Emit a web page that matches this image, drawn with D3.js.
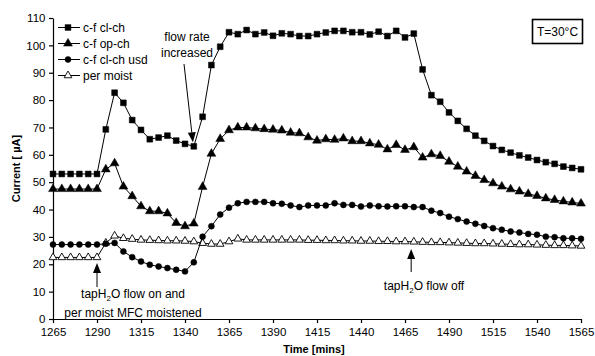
<!DOCTYPE html>
<html>
<head>
<meta charset="utf-8">
<script src="https://cdn.jsdelivr.net/npm/d3@7/dist/d3.min.js"></script>
<style>
  body { margin: 0; background: #fff; }
  svg { font-family: Arial, "Liberation Sans", sans-serif; }
</style>
</head>
<body>
<svg id="chart"></svg>
<script>
// Sampling: one reading every 5 minutes from 1265 to 1565
const startTime = 1265;
const stepTime = 5;

const xTicks = [1265, 1290, 1315, 1340, 1365, 1390, 1415, 1440, 1465, 1490, 1515, 1540, 1565];
const yTicks = [0, 10, 20, 30, 40, 50, 60, 70, 80, 90, 100, 110];

const seriesNames = ["c-f cl-ch", "c-f op-ch", "c-f cl-ch usd", "per moist"];

// c-f cl-ch (filled squares)
const cfClCh = [53, 53, 53, 53, 53, 53, 69.3, 82.7, 79.0, 72.7, 69.1, 65.7, 66.3, 67.0, 65.2, 64.0,
  63.1, 73.9, 92.8, 99.5, 104.8, 104.1, 105.6, 104.1, 104.7, 103.5, 104.4, 104.1, 103.4, 103.4,
  104.1, 104.7, 105.3, 105.3, 104.8, 104.8, 104.0, 105.0, 103.4, 105.3, 102.9, 104.3, 91.2, 81.8,
  79.4, 75.5, 72.4, 69.5, 67.0, 65.1, 63.2, 61.8, 60.8, 59.8, 59.0, 58.1, 57.3, 56.7, 55.7, 55.2, 54.7];

// c-f op-ch (filled triangles)
const cfOpCh = [47.5, 47.5, 47.5, 47.5, 47.5, 47.5, 54.7, 56.9, 48.4, 44.9, 41.2, 39.4, 39.4, 38.6,
  35.1, 33.9, 34.9, 48.3, 60.4, 65.8, 69.0, 70.0, 70.0, 69.7, 69.4, 69.2, 68.9, 68.1, 67.9, 66.4,
  65.2, 65.7, 65.5, 66.0, 65.0, 65.0, 64.2, 63.7, 62.0, 63.6, 61.8, 62.8, 59.0, 60.2, 59.6, 57.5,
  55.7, 53.9, 52.3, 50.8, 49.6, 48.4, 47.4, 46.6, 45.7, 45.0, 44.1, 43.5, 43.0, 42.6, 42.2];

// c-f cl-ch usd (filled circles)
const cfClChUsd = [27.2, 27.2, 27.2, 27.2, 27.2, 27.2, 27.5, 27.8, 24.7, 22.6, 21.0, 19.8, 19.2,
  18.6, 18.0, 17.4, 20.7, 30.1, 33.9, 38.2, 40.7, 42.3, 42.8, 42.8, 42.8, 42.3, 42.1, 41.5, 40.9,
  41.5, 41.5, 41.5, 42.3, 41.7, 41.7, 41.1, 41.5, 41.2, 41.1, 41.2, 41.2, 40.9, 40.9, 39.6, 38.7,
  37.4, 36.5, 35.6, 34.8, 34.0, 33.2, 32.6, 32.0, 31.6, 31.1, 30.8, 30.1, 29.9, 29.5, 29.5, 29.3];

// per moist (open triangles)
const perMoist = [22.5, 22.5, 22.5, 22.5, 22.5, 22.5, 27.8, 30.4, 29.5, 29.2, 28.9, 28.8, 28.7,
  28.6, 28.6, 28.5, 28.3, 27.7, 27.4, 27.4, 28.3, 29.3, 28.9, 28.9, 28.9, 28.9, 28.9, 28.9, 28.9,
  28.8, 28.8, 28.7, 28.7, 28.6, 28.6, 28.5, 28.5, 28.4, 28.4, 28.3, 28.3, 28.2, 28.1, 28.0, 28.0,
  27.9, 27.8, 27.7, 27.6, 27.6, 27.5, 27.4, 27.3, 27.2, 27.2, 27.1, 27.0, 26.9, 26.9, 26.8, 26.7];

const W = 595, H = 356;
const margin = {left: 53, right: 14, top: 18, bottom: 37};

const svg = d3.select("#chart").attr("width", W).attr("height", H);

const x = d3.scaleLinear().domain([1265, 1565]).range([margin.left, W - margin.right]);
const y = d3.scaleLinear().domain([0, 110]).range([H - margin.bottom, margin.top]);

// Axes
const xAxis = svg.append("g")
  .attr("transform", `translate(0,${y(0)})`)
  .call(d3.axisBottom(x).tickValues(xTicks).tickSize(4).tickSizeOuter(0).tickFormat(d3.format("d")));
xAxis.selectAll("text").attr("font-size", 11.5).attr("fill", "#000").attr("dy", "0.85em");

const yAxis = svg.append("g")
  .attr("transform", `translate(${x(1265)},0)`)
  .call(d3.axisLeft(y).tickValues(yTicks).tickSize(4).tickSizeOuter(0));
yAxis.selectAll("text").attr("font-size", 11.5).attr("fill", "#000").attr("dx", "-0.05em");

svg.selectAll(".domain, .tick line").attr("stroke", "#000").attr("stroke-width", 1.2);

// Axis titles
svg.append("text")
  .attr("x", 314).attr("y", 353)
  .attr("text-anchor", "middle").attr("font-size", 11).attr("font-weight", "bold")
  .text("Time [mins]");

svg.append("text")
  .attr("transform", `translate(20,${(y(0) + y(110)) / 2}) rotate(-90)`)
  .attr("text-anchor", "middle").attr("font-size", 11).attr("font-weight", "bold")
  .text("Current [ µA]");

// Series
const series = [
  {name: seriesNames[0], values: cfClCh, symbol: d3.symbolSquare, size: 34, fill: "#000"},
  {name: seriesNames[1], values: cfOpCh, symbol: d3.symbolTriangle, size: 34, fill: "#000"},
  {name: seriesNames[2], values: cfClChUsd, symbol: d3.symbolCircle, size: 28, fill: "#000"},
  {name: seriesNames[3], values: perMoist, symbol: d3.symbolTriangle, size: 26, fill: "#fff"}
];

const line = d3.line()
  .x((d, i) => x(startTime + i * stepTime))
  .y(d => y(d));

series.slice().reverse().forEach(s => {
  const g = svg.append("g");
  g.append("path")
    .datum(s.values)
    .attr("d", line)
    .attr("fill", "none")
    .attr("stroke", "#000")
    .attr("stroke-width", 1);
  g.selectAll("path.pt")
    .data(s.values)
    .enter().append("path")
    .attr("class", "pt")
    .attr("transform", (d, i) => `translate(${x(startTime + i * stepTime)},${y(d)})`)
    .attr("d", d3.symbol().type(s.symbol).size(s.size))
    .attr("fill", s.fill)
    .attr("stroke", "#000")
    .attr("stroke-width", s.fill === "#fff" ? 0.9 : 0.5);
});

// Legend
const legend = svg.selectAll(".legend")
  .data(series)
  .enter().append("g")
  .attr("class", "legend")
  .attr("transform", (d, i) => `translate(58,${27.5 + i * 16})`);

legend.append("line")
  .attr("x1", 0).attr("x2", 22).attr("y1", 0).attr("y2", 0)
  .attr("stroke", "#000").attr("stroke-width", 1);

legend.append("path")
  .attr("transform", "translate(10,0)")
  .attr("d", d => d3.symbol().type(d.symbol).size(d.size)())
  .attr("fill", d => d.fill)
  .attr("stroke", "#000")
  .attr("stroke-width", d => d.fill === "#fff" ? 0.9 : 0.5);

legend.append("text")
  .attr("x", 25).attr("y", 0).attr("dy", "0.35em")
  .attr("font-size", 12)
  .text(d => d.name);

// Arrow helper
function arrow(x1, y1, x2, y2) {
  const ang = Math.atan2(y2 - y1, x2 - x1);
  const len = 10, half = 4;
  const bx = x2 - len * Math.cos(ang), by = y2 - len * Math.sin(ang);
  svg.append("line")
    .attr("x1", x1).attr("y1", y1).attr("x2", bx).attr("y2", by)
    .attr("stroke", "#000").attr("stroke-width", 1);
  const pts = [
    [x2, y2],
    [bx + half * Math.sin(ang), by - half * Math.cos(ang)],
    [bx - half * Math.sin(ang), by + half * Math.cos(ang)]
  ];
  svg.append("polygon").attr("points", pts.map(p => p.join(",")).join(" ")).attr("fill", "#000");
}

// Annotation: flow rate increased
const fr = svg.append("text").attr("text-anchor", "middle").attr("font-size", 12);
fr.append("tspan").attr("x", 187).attr("y", 41).text("flow rate");
fr.append("tspan").attr("x", 187).attr("y", 57).text("increased");
arrow(184, 64, x(1344.5), y(63.1) - 4);

// Annotation: tapH2O flow on
const fo = svg.append("text").attr("text-anchor", "middle").attr("font-size", 12);
fo.append("tspan").attr("x", 133).attr("y", 298).text("tapH");
fo.append("tspan").attr("font-size", 8).attr("dy", 3).text("2");
fo.append("tspan").attr("dy", -3).text("O flow on and");
fo.append("tspan").attr("x", 133).attr("y", 317).text("per moist MFC moistened");
arrow(x(1290), 287, x(1290), 263);

// Annotation: tapH2O flow off
const ff = svg.append("text").attr("text-anchor", "middle").attr("font-size", 12);
ff.append("tspan").attr("x", 424).attr("y", 290).text("tapH");
ff.append("tspan").attr("font-size", 8).attr("dy", 3).text("2");
ff.append("tspan").attr("dy", -3).text("O flow off");
arrow(x(1468.5), 272, x(1468.5), 249);

// Temperature box
svg.append("rect")
  .attr("x", 532.5).attr("y", 19.5).attr("width", 50).attr("height", 24)
  .attr("fill", "#fff").attr("stroke", "#000").attr("stroke-width", 1.6);
svg.append("text")
  .attr("x", 557.5).attr("y", 35.5).attr("text-anchor", "middle").attr("font-size", 12)
  .text("T=30°C");
</script>
</body>
</html>
